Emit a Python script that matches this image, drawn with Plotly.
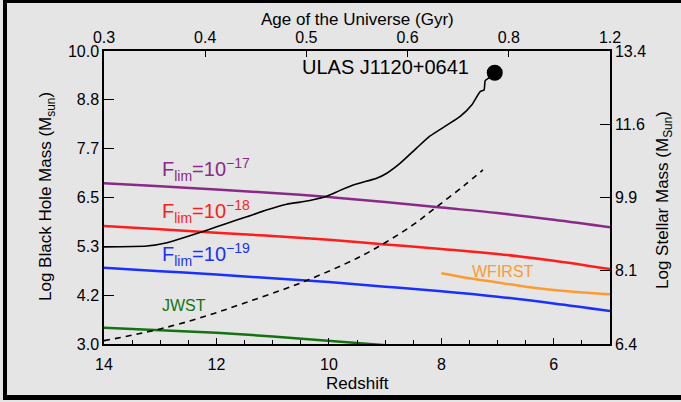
import plotly.graph_objects as go

# ---------------- data ----------------
z_lim = [14, 13, 12, 11, 10, 9, 8, 7, 6, 5]
m_f17 = [6.84, 6.77, 6.69, 6.61, 6.51, 6.39, 6.26, 6.13, 5.97, 5.79]
m_f18 = [5.82, 5.74, 5.66, 5.58, 5.49, 5.38, 5.27, 5.15, 4.99, 4.79]
m_f19 = [4.82, 4.74, 4.66, 4.57, 4.48, 4.37, 4.26, 4.13, 3.97, 3.79]

z_jwst = [14, 13, 12, 11, 10, 9.27, 9.0, 8.5]
m_jwst = [3.39, 3.33, 3.27, 3.18, 3.07, 3.0, 2.97, 2.92]

z_wfirst = [8.0, 7.5, 7.0, 6.5, 6.0, 5.5, 5.0]
m_wfirst = [4.69, 4.57, 4.47, 4.37, 4.29, 4.23, 4.19]

z_dash = [14.0, 13.5, 13.0, 12.3, 11.5, 10.5, 9.5, 9.0, 8.5, 8.08, 7.6, 7.26]
m_dash = [3.08, 3.21, 3.36, 3.62, 3.98, 4.46, 5.05, 5.42, 5.85, 6.28, 6.78, 7.16]

z_growth = [14.0, 13.24, 12.88, 12.53, 12.17, 11.82, 11.46, 11.11, 10.75, 10.51, 10.34, 10.04,
            9.80, 9.51, 9.15, 8.97, 8.73, 8.44, 8.20, 7.90, 7.67, 7.46, 7.31, 7.24, 7.22, 7.16, 7.05]
m_growth = [5.32, 5.34, 5.42, 5.56, 5.72, 5.88, 6.04, 6.20, 6.34, 6.39, 6.43, 6.53,
            6.67, 6.82, 6.96, 7.08, 7.32, 7.68, 7.97, 8.23, 8.43, 8.71, 9.03, 9.07, 9.29, 9.35, 9.48]

z_qso = [7.05]
m_qso = [9.48]

bh_ticks = [3.0, 3 + 7/6, 3 + 14/6, 6.5, 3 + 28/6, 3 + 35/6, 10.0]
bh_labels = ["3.0", "4.2", "5.3", "6.5", "7.7", "8.8", "10.0"]
star_ticks = [6.4, 8.15, 9.9, 11.65, 13.4]
star_labels = ["6.4", "8.1", "9.9", "11.6", "13.4"]
age_pos = [14, 12.2, 10.4, 8.6, 6.8, 5.0]
age_labels = ["0.3", "0.4", "0.5", "0.6", "0.8", "1.2"]

# ---------------- figure ----------------
W, H = 681, 402
L, R, T, B = 104, 610, 51, 344
FONT = "Liberation Sans, Arial, sans-serif"

def px_x(p):
    return (p - L) / (R - L)

def px_y(p):
    return (B - p) / (B - T)

c_purple = "#8a2a88"
c_red = "#ff1c1c"
c_blue = "#1a30ff"
c_green = "#137313"
c_orange = "#ff9a2e"

fig = go.Figure()
fig.add_trace(go.Scatter(x=z_lim, y=m_f17, mode="lines", line=dict(color=c_purple, width=2.5, shape="spline"), hoverinfo="skip"))
fig.add_trace(go.Scatter(x=z_lim, y=m_f18, mode="lines", line=dict(color=c_red, width=2.5, shape="spline"), hoverinfo="skip"))
fig.add_trace(go.Scatter(x=z_lim, y=m_f19, mode="lines", line=dict(color=c_blue, width=2.5, shape="spline"), hoverinfo="skip"))
fig.add_trace(go.Scatter(x=z_jwst, y=m_jwst, mode="lines", line=dict(color=c_green, width=2.5), hoverinfo="skip"))
fig.add_trace(go.Scatter(x=z_wfirst, y=m_wfirst, mode="lines", line=dict(color=c_orange, width=2.5, shape="spline"), hoverinfo="skip"))
fig.add_trace(go.Scatter(x=z_dash, y=m_dash, mode="lines", line=dict(color="black", width=1.6, dash="6px,5px", shape="spline"), hoverinfo="skip"))
fig.add_trace(go.Scatter(x=z_growth, y=m_growth, mode="lines", line=dict(color="black", width=1.6, shape="spline", smoothing=0.5), hoverinfo="skip"))
fig.add_trace(go.Scatter(x=z_qso, y=m_qso, mode="markers", marker=dict(color="black", size=16), hoverinfo="skip", cliponaxis=False))
# invisible trace to host the secondary axes
fig.add_trace(go.Scatter(x=[14, 5], y=[6.4, 13.4], xaxis="x2", yaxis="y2", mode="markers",
                         marker=dict(opacity=0), hoverinfo="skip"))

tickfont = dict(family=FONT, size=16, color="black")
axis_common = dict(showgrid=False, zeroline=False, showline=True, linecolor="black", linewidth=1.5,
                   ticks="inside", tickcolor="black", tickfont=tickfont)

fig.update_layout(
    width=W, height=H,
    margin=dict(l=L, r=W - R, t=T, b=H - B),
    paper_bgcolor="#e5e5e5", plot_bgcolor="rgba(0,0,0,0)",
    showlegend=False,
    xaxis=dict(range=[14, 5], tickvals=[14, 12, 10, 8, 6], ticklen=6, tickwidth=1.2,
               minor=dict(ticks="inside", dtick=0.5, tick0=0, ticklen=4, tickcolor="black"),
               ticklabelstandoff=5, **axis_common),
    xaxis2=dict(range=[14, 5], overlaying="x", side="top", tickvals=age_pos, ticktext=age_labels,
                ticklen=6, tickwidth=1.2, **axis_common),
    yaxis=dict(range=[3, 10], tickvals=bh_ticks, ticktext=bh_labels, ticklen=10, tickwidth=1.2,
               **axis_common),
    yaxis2=dict(range=[6.4, 13.4], overlaying="y", side="right", tickvals=star_ticks,
                ticktext=star_labels, ticklen=10, tickwidth=1.2, **axis_common),
)

ann_font = dict(family=FONT, size=17, color="black")
annotations = [
    dict(text="Age of the Universe (Gyr)", x=px_x(357), y=px_y(20), xref="paper", yref="paper",
         showarrow=False, font=ann_font, xanchor="center", yanchor="middle"),
    dict(text="Redshift", x=px_x(357), y=px_y(383), xref="paper", yref="paper",
         showarrow=False, font=ann_font, xanchor="center", yanchor="middle"),
    dict(text="Log Black Hole Mass (M<sub>sun</sub>)", x=px_x(47), y=px_y(197), xref="paper", yref="paper",
         showarrow=False, font=ann_font, textangle=-90, xanchor="center", yanchor="middle"),
    dict(text="Log Stellar Mass (M<sub>Sun</sub>)", x=px_x(664), y=px_y(200), xref="paper", yref="paper",
         showarrow=False, font=ann_font, textangle=-90, xanchor="center", yanchor="middle"),
    dict(text="ULAS J1120+0641", x=8.985, y=9.61, showarrow=False,
         font=dict(family=FONT, size=20, color="black"), xanchor="center", yanchor="middle"),
    dict(text="F<sub>lim</sub>=10<sup>−17</sup>", x=13.0, y=7.18, showarrow=False,
         font=dict(family=FONT, size=20, color=c_purple), xanchor="left", yanchor="middle"),
    dict(text="F<sub>lim</sub>=10<sup>−18</sup>", x=13.0, y=6.17, showarrow=False,
         font=dict(family=FONT, size=20, color=c_red), xanchor="left", yanchor="middle"),
    dict(text="F<sub>lim</sub>=10<sup>−19</sup>", x=13.0, y=5.13, showarrow=False,
         font=dict(family=FONT, size=20, color=c_blue), xanchor="left", yanchor="middle"),
    dict(text="JWST", x=13.0, y=3.93, showarrow=False,
         font=dict(family=FONT, size=16, color=c_green), xanchor="left", yanchor="middle"),
    dict(text="WFIRST", x=7.49, y=4.74, showarrow=False,
         font=dict(family=FONT, size=16, color=c_orange), xanchor="left", yanchor="middle"),
]
fig.update_layout(annotations=annotations)

# black frame bands around the picture
shapes = [
    dict(type="rect", xref="paper", yref="paper", x0=px_x(3), x1=px_x(7), y0=px_y(400), y1=px_y(0),
         fillcolor="black", line=dict(width=0), layer="above"),
    dict(type="rect", xref="paper", yref="paper", x0=px_x(3), x1=px_x(681), y0=px_y(3), y1=px_y(0),
         fillcolor="black", line=dict(width=0), layer="above"),
    dict(type="rect", xref="paper", yref="paper", x0=px_x(3), x1=px_x(681), y0=px_y(400), y1=px_y(395),
         fillcolor="black", line=dict(width=0), layer="above"),
]
fig.update_layout(shapes=shapes)

fig.write_html("out.html", config={"displayModeBar": False},
               post_script="document.body.style.margin='0';document.body.style.overflow='hidden';")
